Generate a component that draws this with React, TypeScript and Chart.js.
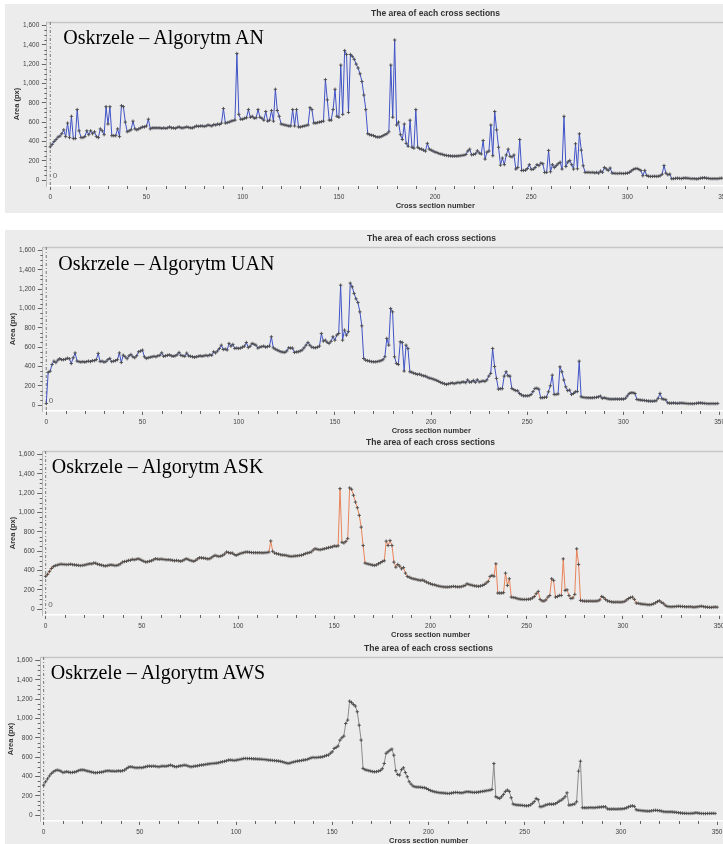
import React, { useEffect, useRef } from "react";
import { Chart, registerables } from "chart.js";

Chart.register(...registerables);

// Area (px) of each cross section, index = cross section number (0..349)
const AN = [
  345, 370, 400, 420, 445, 455, 480, 520, 450, 590,
  440, 660, 430, 430, 730, 510, 440, 440, 450, 510,
  470, 510, 480, 500, 450, 440, 530, 510, 470, 760,
  580, 760, 460, 460, 460, 530, 450, 770, 760, 600,
  500, 510, 520, 610, 530, 520, 530, 540, 550, 550,
  560, 630, 530, 540, 540, 540, 540, 540, 535, 540,
  535, 540, 550, 540, 540, 535, 545, 550, 540, 540,
  545, 550, 545, 540, 540, 550, 560, 555, 560, 560,
  555, 560, 570, 565, 560, 575, 570, 580, 575, 590,
  740, 590, 595, 600, 610, 615, 620, 1310, 680, 630,
  630, 640, 645, 730, 650, 660, 640, 645, 730, 650,
  640, 620, 710, 610, 620, 720, 610, 940, 720, 660,
  580, 575, 570, 565, 560, 560, 730, 560, 730, 550,
  550, 555, 560, 565, 570, 750, 730, 590, 590, 595,
  600, 605, 610, 1040, 830, 620, 620, 730, 940, 660,
  650, 1190, 680, 1340, 1300, 700, 1300, 1280, 1250, 1200,
  1160, 1100, 1020, 880, 730, 480, 470, 465, 460, 450,
  445, 445, 450, 460, 470, 480, 500, 1190, 650, 1450,
  570, 600, 470, 420, 580, 380, 350, 620, 340, 330,
  730, 340, 325, 320, 310, 300, 380, 320, 310, 300,
  290, 285, 275, 270, 265, 258, 255, 252, 250, 248,
  248, 248, 250, 252, 255, 258, 265, 300, 320, 262,
  265, 272, 303, 280, 270, 410, 217, 290, 300, 570,
  252, 710, 520, 340, 155, 228, 160, 260, 320, 245,
  240, 260, 114, 130, 420, 100, 100, 102, 120, 160,
  110, 112, 130, 160, 150, 176, 170, 79, 80, 307,
  86, 160, 130, 150, 170, 185, 114, 660, 141, 186,
  203, 160, 114, 376, 117, 479, 310, 148, 79, 80,
  80, 78, 80, 75, 80, 72, 93, 80, 131, 115,
  100, 125, 72, 70, 69, 68, 70, 69, 68, 70,
  72, 80, 95, 110, 118, 120, 110, 100, 45, 100,
  48, 40, 38, 38, 40, 38, 40, 45, 60, 150,
  72, 55, 62, 14, 15, 18, 20, 18, 16, 20,
  22, 20, 18, 15, 15, 15, 12, 15, 20, 22,
  25, 20, 18, 15, 15, 15, 15, 15, 18, 20,
];

const UAN = [
  17, 340, 350, 420, 455, 440, 465, 480, 470, 470,
  475, 485, 480, 430, 490, 540, 455, 450, 445, 450,
  445, 450, 455, 450, 460, 460, 470, 535, 450, 455,
  445, 450, 470, 483, 450, 455, 460, 470, 540, 441,
  517, 500, 480, 510, 524, 500, 490, 510, 552, 559,
  569, 500, 483, 490, 495, 500, 505, 500, 510, 515,
  541, 505, 510, 515, 520, 510, 505, 510, 520, 545,
  515, 510, 505, 538, 510, 505, 500, 495, 500, 505,
  510, 505, 510, 515, 510, 520, 515, 552, 540, 560,
  586, 620, 575, 580, 570, 638, 610, 628, 586, 590,
  586, 590, 600, 610, 648, 595, 610, 638, 630, 620,
  590, 600, 605, 610, 600, 605, 610, 707, 593, 579,
  570, 560, 552, 548, 545, 560, 593, 590, 590, 545,
  550, 552, 560, 570, 593, 620, 648, 620, 600, 595,
  593, 600, 610, 741, 662, 672, 650, 638, 660, 707,
  672, 724, 741, 1241, 672, 776, 724, 760, 1262, 1224,
  1155, 1100, 1062, 965, 820, 482, 465, 460, 455, 450,
  448, 448, 450, 455, 460, 470, 500, 690, 620, 999,
  965, 500, 431, 420, 655, 648, 352, 620, 586, 345,
  340, 330, 325, 317, 320, 310, 303, 300, 290, 280,
  276, 270, 262, 255, 245, 234, 228, 220, 214, 220,
  225, 230, 222, 228, 235, 230, 238, 240, 232, 260,
  238, 240, 255, 235, 262, 240, 245, 250, 245, 260,
  300, 328, 586, 400, 276, 165, 170, 170, 300, 345,
  303, 300, 172, 160, 150, 148, 120, 105, 96, 96,
  96, 98, 110, 140, 172, 175, 165, 76, 76, 80,
  82, 138, 200, 310, 110, 110, 115, 396, 345, 260,
  189, 150, 155, 110, 120, 138, 140, 455, 86, 80,
  78, 76, 76, 75, 76, 78, 80, 85, 93, 70,
  76, 70, 65, 62, 62, 62, 63, 62, 62, 63,
  62, 70, 95, 120, 128, 128, 120, 58, 55, 52,
  50, 48, 45, 42, 41, 40, 42, 45, 70, 121,
  65, 60, 55, 24, 20, 20, 22, 20, 18, 20,
  22, 20, 18, 16, 15, 15, 14, 16, 18, 22,
  22, 20, 18, 16, 15, 15, 16, 15, 15, 17,
];

const ASK = [
  339, 360, 390, 420, 440, 450, 455, 462, 465, 463,
  462, 460, 462, 465, 460, 458, 455, 453, 450, 452,
  455, 460, 465, 470, 468, 477, 475, 465, 460, 455,
  450, 446, 450, 455, 458, 455, 450, 452, 458, 470,
  487, 492, 495, 504, 505, 515, 510, 515, 521, 515,
  504, 495, 487, 490, 495, 500, 510, 521, 518, 515,
  518, 515, 512, 510, 511, 508, 505, 500, 504, 500,
  495, 500, 510, 521, 515, 505, 500, 494, 505, 520,
  532, 530, 528, 525, 520, 520, 530, 545, 556, 550,
  545, 548, 556, 570, 591, 585, 580, 580, 565, 556,
  565, 574, 580, 585, 591, 590, 588, 585, 584, 584,
  583, 584, 583, 582, 584, 585, 590, 705, 598, 580,
  574, 570, 563, 560, 558, 556, 550, 546, 545, 548,
  550, 552, 555, 558, 565, 574, 580, 585, 591, 610,
  625, 620, 615, 615, 620, 625, 630, 636, 640, 645,
  653, 650, 655, 1247, 691, 684, 700, 729, 1254, 1240,
  1178, 1107, 1049, 970, 848, 658, 476, 470, 465, 460,
  455, 452, 458, 470, 480, 493, 500, 703, 658, 710,
  658, 486, 434, 462, 445, 417, 430, 372, 338, 330,
  320, 314, 310, 305, 300, 297, 300, 290, 279, 270,
  262, 255, 252, 245, 240, 235, 232, 230, 228, 228,
  230, 232, 235, 232, 230, 230, 232, 238, 245, 262,
  255, 250, 245, 240, 238, 235, 240, 245, 255, 270,
  286, 338, 348, 340, 469, 166, 166, 166, 170, 372,
  245, 314, 124, 120, 117, 110, 105, 102, 100, 100,
  100, 102, 105, 115, 130, 160, 183, 100, 85, 83,
  95, 124, 140, 314, 297, 124, 130, 141, 141, 520,
  193, 200, 140, 110, 115, 152, 624, 462, 90, 85,
  83, 82, 82, 83, 82, 82, 83, 85, 95, 131,
  120, 100, 85, 80, 75, 72, 72, 73, 72, 72,
  74, 80, 95, 110, 120, 124, 100, 62, 60, 55,
  52, 50, 48, 45, 45, 48, 55, 65, 78, 86,
  70, 60, 40, 28, 26, 24, 25, 26, 28, 30,
  28, 27, 25, 24, 24, 25, 22, 20, 22, 25,
  28, 30, 25, 22, 20, 18, 18, 20, 22, 20,
];

const AWS = [
  310, 345, 375, 405, 430, 448, 460, 466, 462, 455,
  440, 445, 450, 445, 440, 442, 445, 450, 460, 466,
  468, 466, 460, 455, 450, 445, 440, 438, 440, 442,
  445, 448, 455, 458, 459, 455, 455, 453, 455, 458,
  455, 459, 465, 480, 495, 500, 498, 492, 490, 490,
  492, 490, 495, 500, 505, 507, 505, 507, 505, 502,
  500, 505, 507, 505, 507, 512, 517, 510, 502, 500,
  505, 510, 512, 517, 515, 508, 502, 500, 505, 507,
  510, 515, 518, 520, 524, 527, 530, 533, 534, 536,
  538, 542, 548, 552, 556, 562, 569, 570, 568, 565,
  568, 572, 576, 580, 586, 586, 585, 585, 584, 582,
  582, 580, 579, 578, 576, 575, 572, 569, 568, 566,
  564, 562, 560, 556, 552, 545, 540, 534, 538, 545,
  550, 555, 559, 562, 565, 569, 572, 576, 585, 592,
  597, 595, 596, 598, 600, 603, 610, 618, 621, 640,
  655, 690, 700, 714, 776, 800, 817, 948, 983, 1179,
  1166, 1145, 1128, 1069, 930, 776, 483, 470, 465, 460,
  455, 450, 448, 450, 455, 462, 480, 534, 640, 655,
  672, 683, 620, 460, 420, 414, 470, 490, 440, 397,
  345, 320, 300, 293, 290, 290, 288, 285, 283, 275,
  265, 255, 248, 242, 238, 234, 231, 230, 228, 226,
  224, 224, 228, 232, 235, 234, 232, 230, 232, 238,
  242, 241, 238, 235, 235, 236, 238, 242, 245, 248,
  252, 255, 259, 265, 534, 190, 180, 172, 190, 214,
  245, 259, 245, 180, 114, 108, 105, 103, 102, 100,
  98, 96, 98, 105, 121, 140, 172, 160, 86, 88,
  95, 105, 110, 114, 112, 114, 118, 130, 145, 155,
  170, 190, 231, 103, 105, 110, 115, 138, 455, 558,
  76, 76, 75, 76, 78, 77, 76, 78, 80, 82,
  84, 86, 86, 65, 62, 62, 63, 62, 62, 63,
  64, 65, 68, 75, 85, 92, 96, 90, 55, 50,
  48, 46, 44, 42, 41, 41, 45, 48, 50, 48,
  46, 42, 36, 34, 34, 33, 34, 32, 30, 28,
  25, 22, 20, 18, 18, 17, 17, 18, 20, 25,
  22, 18, 17, 16, 16, 17, 17, 18, 18, 17,
];

const Y_TICKS = [0, 200, 400, 600, 800, 1000, 1200, 1400, 1600];
const X_TICKS = [0, 50, 100, 150, 200, 250, 300, 350, 400];
const CHART_TITLE = "The area of each cross sections";
const X_TITLE = "Cross section number";
const Y_TITLE = "Area (px)";

const X_MIN = -1.8;
const X_MAX = 402;
const Y_MIN = -61;
const Y_MAX = 1636;
const PX_PER_X = 1.924;
const CANVAS_H = 210;
const SANS = '"Liberation Sans", Arial, sans-serif';

type PanelCfg = {
  name: string;
  values: number[];
  line: string;
  top: number;
  x0: number;
  labelLeft: number;
  labelTop: number;
  zeroLabel: boolean;
};

const PANELS: PanelCfg[] = [
  { name: "Oskrzele – Algorytm AN", values: AN, line: "#3f52c6", top: 2, x0: 50.3, labelLeft: 63.3, labelTop: 26.5, zeroLabel: true },
  { name: "Oskrzele – Algorytm UAN", values: UAN, line: "#3f52c6", top: 227, x0: 46.3, labelLeft: 58.3, labelTop: 252.5, zeroLabel: true },
  { name: "Oskrzele – Algorytm ASK", values: ASK, line: "#e8835a", top: 431, x0: 45.7, labelLeft: 51.7, labelTop: 455.5, zeroLabel: true },
  { name: "Oskrzele – Algorytm AWS", values: AWS, line: "#8c8c8c", top: 637, x0: 43.7, labelLeft: 50.7, labelTop: 662.2, zeroLabel: false },
];

function Panel({ cfg }: { cfg: PanelCfg }) {
  const ref = useRef<HTMLCanvasElement>(null);
  const left = cfg.x0 - 3.5;
  const plotW = (X_MAX - X_MIN) * PX_PER_X;
  const W = Math.round(2 * (left + plotW / 2));

  useEffect(() => {
    const rightGap = W - left - plotW;
    const deco = {
      id: "deco",
      beforeDatasetsDraw(chart: any) {
        const { ctx, chartArea: ca, scales } = chart;
        const x = scales.x;
        const y = scales.y;
        ctx.save();
        ctx.strokeStyle = "#c6c6c6";
        ctx.lineWidth = 1.5;
        ctx.beginPath();
        ctx.moveTo(ca.left, ca.top + 0.5);
        ctx.lineTo(ca.right, ca.top + 0.5);
        ctx.stroke();
        const zx = x.getPixelForValue(0);
        ctx.strokeStyle = "#7a7a7a";
        ctx.lineWidth = 1;
        ctx.setLineDash([3, 2, 1, 2]);
        ctx.beginPath();
        ctx.moveTo(zx, ca.top);
        ctx.lineTo(zx, ca.bottom);
        ctx.stroke();
        ctx.setLineDash([]);
        if (cfg.zeroLabel) {
          ctx.fillStyle = "#666";
          ctx.font = "8px " + SANS;
          ctx.textBaseline = "middle";
          ctx.textAlign = "left";
          ctx.fillText("0", zx + 2.5, ca.bottom - 10);
        }
        ctx.strokeStyle = "#666";
        ctx.lineWidth = 1;
        ctx.beginPath();
        for (let v = 50; v <= 1600; v += 50) {
          if (v % 200 === 0) continue;
          const py = Math.round(y.getPixelForValue(v)) + 0.5;
          ctx.moveTo(ca.left - 2.5, py);
          ctx.lineTo(ca.left, py);
        }
        for (let v = 10; v <= 400; v += 10) {
          if (v % 50 === 0) continue;
          const px = Math.round(x.getPixelForValue(v)) + 0.5;
          ctx.moveTo(px, ca.bottom);
          ctx.lineTo(px, ca.bottom + 3);
        }
        ctx.stroke();
        ctx.restore();
      },
    };

    const chart = new Chart(ref.current as HTMLCanvasElement, {
      type: "line",
      data: {
        datasets: [
          {
            data: cfg.values.map((v, i) => ({ x: i, y: v })),
            borderColor: cfg.line,
            borderWidth: 1,
            pointStyle: "cross",
            pointRadius: 1.7,
            pointBorderColor: "#4a4a4a",
            pointBackgroundColor: "#4a4a4a",
            pointBorderWidth: 0.9,
            tension: 0,
            fill: false,
          } as any,
        ],
      },
      options: {
        animation: false,
        responsive: false,
        devicePixelRatio: 1,
        events: [],
        layout: { padding: 0 },
        plugins: {
          legend: { display: false },
          tooltip: { enabled: false },
          title: {
            display: true,
            text: CHART_TITLE,
            color: "#333",
            font: { family: SANS, size: 8.5, weight: "bold", lineHeight: 1.2 },
            padding: { top: 6.9, bottom: 2.9 },
          },
        },
        scales: {
          x: {
            type: "linear",
            min: X_MIN,
            max: X_MAX,
            afterBuildTicks: (s: any) => {
              s.ticks = X_TICKS.map((v) => ({ value: v }));
            },
            afterFit: (s: any) => {
              s.height = 26;
            },
            grid: { drawOnChartArea: false, drawTicks: true, tickLength: 4, color: "#666", tickColor: "#666" },
            border: { display: true, color: "#ffffff", width: 1.5 },
            ticks: { color: "#444", font: { family: SANS, size: 6.5 }, padding: 3, maxRotation: 0, autoSkip: false },
            title: {
              display: true,
              text: X_TITLE,
              color: "#333",
              font: { family: SANS, size: 7.5, weight: "bold", lineHeight: 1.2 },
              padding: { top: 0, bottom: 1.5 },
            },
          },
          y: {
            type: "linear",
            min: Y_MIN,
            max: Y_MAX,
            afterBuildTicks: (s: any) => {
              s.ticks = Y_TICKS.map((v) => ({ value: v }));
            },
            afterFit: (s: any) => {
              s.width = left;
            },
            grid: { drawOnChartArea: false, drawTicks: true, tickLength: 5, color: "#666", tickColor: "#666" },
            border: { display: true, color: "#b8b8b8", width: 1 },
            ticks: {
              color: "#444",
              font: { family: SANS, size: 6.5 },
              padding: 2.5,
              callback: (v: any) => Number(v).toLocaleString("en-US"),
            },
            title: {
              display: true,
              text: Y_TITLE,
              color: "#333",
              font: { family: SANS, size: 7.5, weight: "bold", lineHeight: 1.2 },
              padding: { top: cfg.x0 - 33 - 4.5, bottom: 0 },
            },
          },
          // empty right-hand box that keeps the plot narrower than the title row
          yRight: {
            type: "linear",
            position: "right",
            display: true,
            min: Y_MIN,
            max: Y_MAX,
            afterFit: (s: any) => {
              s.width = rightGap;
            },
            grid: { display: false, drawOnChartArea: false },
            border: { display: false },
            ticks: { display: false },
          },
        },
      } as any,
      plugins: [deco],
    });
    return () => chart.destroy();
  }, []);

  return (
    <>
      <canvas
        ref={ref}
        width={W}
        height={CANVAS_H}
        style={{ position: "absolute", left: 0, top: cfg.top, width: W, height: CANVAS_H, display: "block" }}
      />
      <div
        style={{
          position: "absolute",
          left: cfg.labelLeft,
          top: cfg.labelTop,
          fontFamily: '"Liberation Serif", "Times New Roman", serif',
          fontSize: 20,
          lineHeight: "20px",
          color: "#000",
          whiteSpace: "nowrap",
          zIndex: 2,
        }}
      >
        {cfg.name}
      </div>
    </>
  );
}

export default function App() {
  return (
    <div
      style={{
        position: "absolute",
        left: 0,
        top: 0,
        width: 723,
        height: 844,
        overflow: "hidden",
        background: "#ffffff",
      }}
    >
      <div style={{ position: "absolute", left: 5, top: 4, width: 718, height: 209, background: "#ececec" }} />
      <div style={{ position: "absolute", left: 5, top: 230, width: 718, height: 614, background: "#ececec" }} />
      {PANELS.map((p) => (
        <Panel key={p.name} cfg={p} />
      ))}
    </div>
  );
}
